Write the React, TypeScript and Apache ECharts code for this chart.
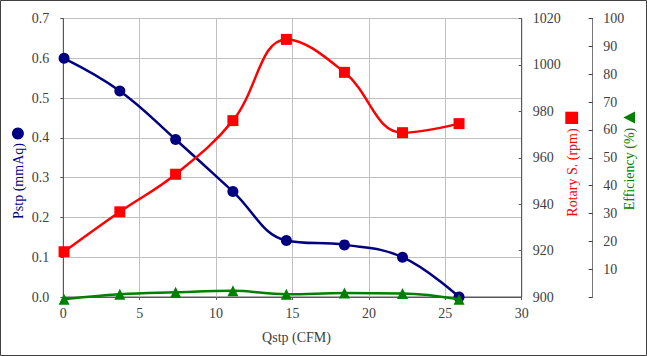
import React, { useEffect, useRef } from "react";
import * as echarts from "echarts";

const qstp = [0.05, 3.7, 7.35, 11.1, 14.6, 18.4, 22.2, 25.9];
const pstp = [0.6, 0.518, 0.396, 0.265, 0.142, 0.131, 0.1, 0.0];
const rotary = [919.5, 936.7, 952.9, 976.0, 1011.0, 996.8, 970.8, 974.7];
const efficiency = [-0.8, 1.0, 1.7, 2.2, 1.0, 1.4, 1.3, -0.8];

const xTitle = "Qstp (CFM)";
const pTitle = "Pstp (mmAq)";
const rTitle = "Rotary S. (rpm)";
const eTitle = "Efficiency (%)";

const FONT = "Liberation Serif";
const LABEL_COLOR = "#404040";
const AXIS_COLOR = "#595959";

export default function App() {
  const ref = useRef<HTMLDivElement>(null);
  useEffect(() => {
    document.body.style.margin = "0";
    const chart = echarts.init(ref.current!, null, { renderer: "svg" });
    const pair = (ys: number[]) => qstp.map((x, i) => [x, ys[i]]);
    const labelStyle = { color: LABEL_COLOR, fontFamily: FONT, fontSize: 14 };
    chart.setOption({
      animation: false,
      backgroundColor: "#ffffff",
      textStyle: { fontFamily: FONT },
      grid: {
        left: 63.3,
        right: 125.3,
        top: 18.5,
        bottom: 59,
        show: true,
        borderColor: AXIS_COLOR,
        borderWidth: 1,
        backgroundColor: "transparent",
      },
      xAxis: {
        type: "value",
        min: 0,
        max: 30,
        interval: 5,
        axisLine: { show: true, lineStyle: { color: AXIS_COLOR, width: 1 } },
        axisTick: { show: true, inside: false, length: 3, lineStyle: { color: AXIS_COLOR } },
        axisLabel: { ...labelStyle, margin: 9, formatter: (v: number) => String(v) },
        splitLine: { show: true, lineStyle: { color: "#c0c0c0", width: 1 } },
      },
      yAxis: [
        {
          type: "value",
          position: "left",
          min: 0,
          max: 0.7,
          interval: 0.1,
          axisLine: { show: true, lineStyle: { color: AXIS_COLOR, width: 1 } },
          axisTick: { show: true, inside: false, length: 3, lineStyle: { color: AXIS_COLOR } },
          axisLabel: { ...labelStyle, margin: 14, formatter: (v: number) => v.toFixed(1) },
          splitLine: { show: true, lineStyle: { color: "#c0c0c0", width: 1 } },
        },
        {
          type: "value",
          position: "right",
          min: 900,
          max: 1020,
          interval: 20,
          axisLine: { show: true, lineStyle: { color: AXIS_COLOR, width: 1 } },
          axisTick: { show: true, inside: true, length: 3, lineStyle: { color: AXIS_COLOR } },
          axisLabel: { ...labelStyle, margin: 11, formatter: (v: number) => String(v) },
          splitLine: { show: false },
        },
        {
          type: "value",
          position: "right",
          offset: 71,
          min: 0,
          max: 100,
          interval: 10,
          axisLine: { show: true, lineStyle: { color: "#777777", width: 1 } },
          axisTick: { show: true, inside: true, length: 4, lineStyle: { color: "#404040" } },
          axisLabel: {
            ...labelStyle,
            margin: 10.5,
            formatter: (v: number) => (v === 0 ? "" : String(v)),
          },
          splitLine: { show: false },
        },
      ],
      series: [
        {
          type: "line",
          yAxisIndex: 0,
          data: pair(pstp),
          smooth: 0.4,
          clip: false,
          symbol: "circle",
          symbolSize: 11,
          lineStyle: { color: "#000080", width: 2.5 },
          itemStyle: { color: "#000080" },
          z: 2,
        },
        {
          type: "line",
          yAxisIndex: 1,
          data: pair(rotary),
          smooth: 0.4,
          clip: false,
          symbol: "rect",
          symbolSize: 11,
          lineStyle: { color: "#ff0000", width: 2.5 },
          itemStyle: { color: "#ff0000" },
          z: 3,
        },
        {
          type: "line",
          yAxisIndex: 2,
          data: pair(efficiency),
          smooth: 0.4,
          clip: false,
          symbol: "triangle",
          symbolSize: 11,
          lineStyle: { color: "#008000", width: 2.5 },
          itemStyle: { color: "#008000" },
          z: 4,
        },
      ],
      graphic: [
        {
          type: "rect",
          shape: { x: 0.5, y: 0.5, width: 646, height: 355 },
          style: { fill: "none", stroke: "#404040", lineWidth: 1 },
          silent: true,
        },
        {
          type: "text",
          x: 296.5,
          y: 337,
          style: {
            text: xTitle,
            fill: LABEL_COLOR,
            font: `14px ${FONT}`,
            align: "center",
            verticalAlign: "middle",
          },
        },
        {
          type: "text",
          x: 18.3,
          y: 181,
          rotation: Math.PI / 2,
          style: {
            text: pTitle,
            fill: "#000080",
            font: `14px ${FONT}`,
            align: "center",
            verticalAlign: "middle",
          },
        },
        {
          type: "circle",
          shape: { cx: 17.9, cy: 133.5, r: 6 },
          style: { fill: "#000080" },
        },
        {
          type: "text",
          x: 572.3,
          y: 172.5,
          rotation: Math.PI / 2,
          style: {
            text: rTitle,
            fill: "#ff0000",
            font: `14px ${FONT}`,
            align: "center",
            verticalAlign: "middle",
          },
        },
        {
          type: "rect",
          shape: { x: 565.3, y: 111.7, width: 12.8, height: 12.3 },
          style: { fill: "#ff0000" },
        },
        {
          type: "text",
          x: 629.3,
          y: 169,
          rotation: Math.PI / 2,
          style: {
            text: eTitle,
            fill: "#008000",
            font: `14px ${FONT}`,
            align: "center",
            verticalAlign: "middle",
          },
        },
        {
          type: "polygon",
          shape: {
            points: [
              [623.3, 117.5],
              [635, 111.5],
              [635, 123.5],
            ],
          },
          style: { fill: "#008000" },
        },
      ],
    });
    return () => chart.dispose();
  }, []);
  return <div ref={ref} style={{ width: 647, height: 356 }} />;
}
